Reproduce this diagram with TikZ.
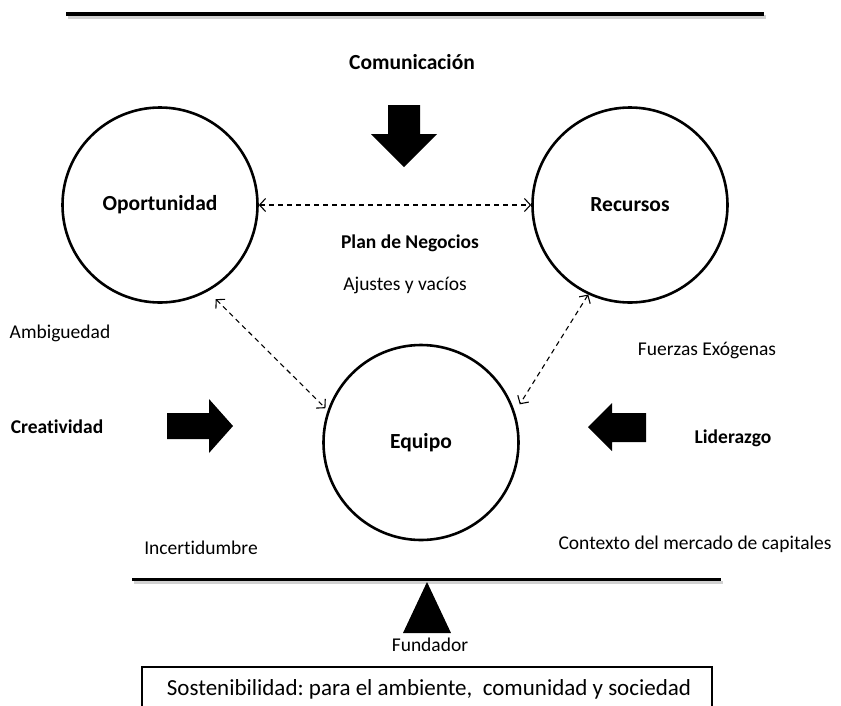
\documentclass[tikz,border=0pt]{standalone}
\usepackage{fontspec}
\setmainfont{Carlito}[Ligatures=NoCommon]
\usetikzlibrary{arrows.meta}
\frenchspacing
\begin{document}
\begin{tikzpicture}[x=1pt,y=-1pt,
  every node/.style={font=\fontsize{19.5}{23}\selectfont},
  lbl/.style={inner sep=0pt},
  blbl/.style={inner sep=0pt,font=\fontsize{19.5}{23}\selectfont\bfseries},
  concept/.style={circle,draw,line width=2.6pt,minimum size=195pt,inner sep=0pt,
    font=\fontsize{21.5}{25}\selectfont\bfseries},
  link/.style={line width=1.1pt,dash pattern=on 5pt off 4pt,
    {Straight Barb[length=6pt,width=13pt,line width=1.1pt]}-{Straight Barb[length=6pt,width=13pt,line width=1.1pt]}},
  blockarrow/.style={fill=black,draw=none},
  rule/.style={line width=4pt},
  shade/.style={line width=4pt,draw=black!18}]
\useasboundingbox (0,0) rectangle (841,705);

% top rule with a soft shadow
\draw[shade] (68,17) -- (766,17);
\draw[rule] (66,14) -- (764,14);

% the three concepts
\node[concept] (opp) at (160,205) {Oportunidad};
\node[concept] (rec) at (630,205) {Recursos};
\node[concept] (eq)  at (421,442.5) {Equipo};

% dashed two-way links
\draw[link] (opp.east) -- (rec.west);
\draw[link,shorten <=11pt,shorten >=3pt] (opp.-61.6) -- (eq.161);
\draw[link,shorten >=9pt] (rec.-115) -- (eq.18.7);

% labels
\node[blbl,font=\fontsize{21.5}{25}\selectfont\bfseries] (com) at (412,62) {Comunicación};
\node[blbl] (plan) at (410,243) {Plan de Negocios};
\node[lbl] (ajus) at (405,285) {Ajustes y vacíos};
\node[lbl] (amb) at (60,333) {Ambiguedad};
\node[lbl] (fuer) at (707,351) {Fuerzas Exógenas};
\node[blbl] (crea) at (57,427) {Creatividad};
\node[blbl] (lid) at (733,438) {Liderazgo};
\node[lbl] (inc) at (201,548) {Incertidumbre};
\node[lbl] (ctx) at (695,544) {Contexto del mercado de capitales};
\node[lbl] (fun) at (430,645) {Fundador};

% block arrows
\fill[blockarrow] (388,105) -- (420,105) -- (420,134) -- (437,134) -- (404,167)
  -- (371,134) -- (388,134) -- cycle;
\fill[blockarrow] (167,413) -- (209,413) -- (209,399) -- (233,426) -- (209,453)
  -- (209,439) -- (167,439) -- cycle;
\fill[blockarrow] (646,413) -- (612,413) -- (612,403) -- (588,427) -- (612,451)
  -- (612,442) -- (646,442) -- cycle;

% balance beam and fulcrum
\draw[shade,line width=3pt] (134,582) -- (723,582);
\draw[rule,line width=3pt] (132,579) -- (721,579);
\fill[blockarrow] (427,582) -- (451,633) -- (403,633) -- cycle;

% base box, open at the lower edge
\draw[line width=2.6pt] (142,712) -- (142,667) -- (712,667) -- (712,712);
\node[lbl,font=\fontsize{23}{27}\selectfont] (sost) at (429,689)
  {Sostenibilidad: para el ambiente,\ \ comunidad y sociedad};
\end{tikzpicture}
\end{document}
